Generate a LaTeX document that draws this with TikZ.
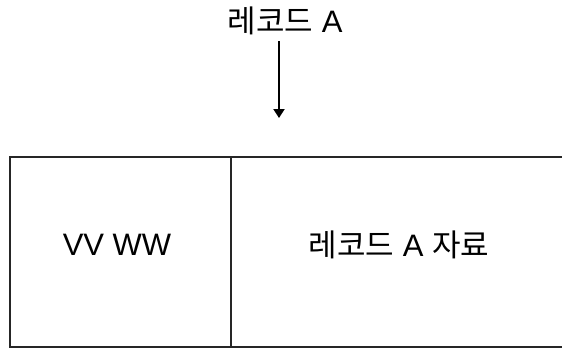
\documentclass[tikz,border=0pt]{standalone}
\usepackage{fontspec}
\setmainfont{Liberation Sans}
\newfontfamily\kr{Noto Sans CJK KR}
\usetikzlibrary{arrows.meta}
\tikzset{
  lbl/.style={font=\fontsize{31}{36}\selectfont, inner sep=0pt, text=black},
  frame/.style={line width=2.2pt, draw=black!85},
  conn/.style={line width=2pt, -{Triangle[length=9pt,width=11pt]}}
}
\begin{document}
\begin{tikzpicture}[x=1pt,y=1pt]
\useasboundingbox (0,0) rectangle (562,-349);
\node[lbl] (top) at (285,-21) {{\kr 레코드} A};
\coordinate (tip) at (279,-118);
\coordinate (start) at (279,-41);
\draw[conn] (start) -- (tip);
\coordinate (tr) at (563,-157);
\coordinate (tl) at (10,-157);
\coordinate (bl) at (10,-347);
\coordinate (br) at (563,-347);
\draw[frame] (tr) -- (tl) -- (bl) -- (br);
\coordinate (dt) at (231,-157);
\coordinate (db) at (231,-347);
\draw[frame] (dt) -- (db);
\node[lbl] (key) at (117,-245) {VV WW};
\node[lbl] (data) at (399,-245) {{\kr 레코드} A {\kr 자료}};
\end{tikzpicture}
\end{document}
